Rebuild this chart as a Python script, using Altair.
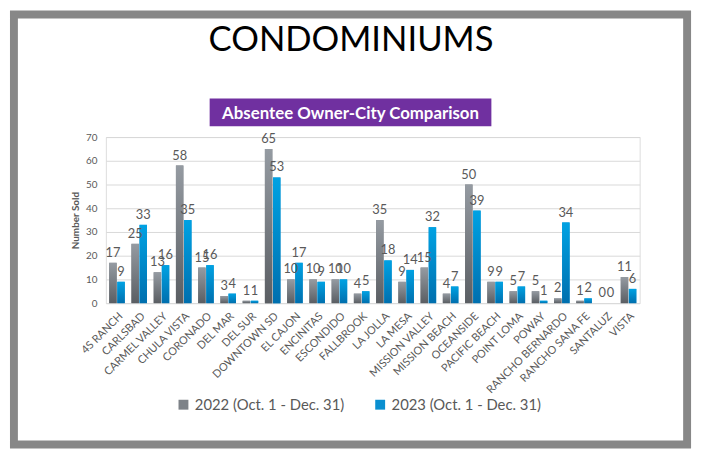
import altair as alt
import pandas as pd

cities = ["4S RANCH", "CARLSBAD", "CARMEL VALLEY", "CHULA VISTA", "CORONADO", "DEL MAR",
          "DEL SUR", "DOWNTOWN SD", "EL CAJON", "ENCINITAS", "ESCONDIDO", "FALLBROOK",
          "LA JOLLA", "LA MESA", "MISSION VALLEY", "MISSION BEACH", "OCEANSIDE",
          "PACIFIC BEACH", "POINT LOMA", "POWAY", "RANCHO BERNARDO", "RANCHO SANA FE",
          "SANTALUZ", "VISTA"]
sold_2022 = [17, 25, 13, 58, 15, 3, 1, 65, 10, 10, 10, 4, 35, 9, 15, 4, 50, 9, 5, 5, 2, 1, 0, 11]
sold_2023 = [9, 33, 16, 35, 16, 4, 1, 53, 17, 9, 10, 5, 18, 14, 32, 7, 39, 9, 7, 1, 34, 2, 0, 6]
series = ["2022 (Oct. 1 - Dec. 31)", "2023 (Oct. 1 - Dec. 31)"]
y_ticks = [0, 10, 20, 30, 40, 50, 60, 70]
main_title = "CONDOMINIUMS"
sub_title = "Absentee Owner-City Comparison"
y_title = "Number Sold"

rows = []
for c, a, b in zip(cities, sold_2022, sold_2023):
    rows.append({"city": c, "series": series[0], "sold": a})
    rows.append({"city": c, "series": series[1], "sold": b})
df = pd.DataFrame(rows)
one = pd.DataFrame({"t": [main_title], "s": [sub_title]})

GREY_TXT = "#595959"
FONT = "Lato"

x_enc = alt.X("city:N", sort=cities,
              scale=alt.Scale(paddingInner=0.3, paddingOuter=0.15),
              axis=alt.Axis(title=None, labelAngle=-45, labelFontSize=11, labelColor=GREY_TXT,
                            labelPadding=7, domain=False, ticks=False, labelFont=FONT))
xo_enc = alt.XOffset("series:N", sort=series,
                     scale=alt.Scale(domain=series, paddingInner=0.08, paddingOuter=0))
y_enc = alt.Y("sold:Q", scale=alt.Scale(domain=[0, 70]),
              axis=alt.Axis(values=y_ticks, title=y_title, titleFontSize=10, titleFontWeight="bold",
                            titleColor=GREY_TXT, titlePadding=5, labelFontSize=10,
                            labelColor=GREY_TXT, labelPadding=9, domain=False, ticks=False,
                            gridColor="#d9d9d9", gridWidth=1, labelFont=FONT, titleFont=FONT))

frame = alt.Chart(one).mark_rect(fillOpacity=0, stroke="#878787", strokeWidth=8).encode(
    x=alt.value(14 - 107), x2=alt.value(695 - 107),
    y=alt.value(12 - 136), y2=alt.value(447 - 136))

title = alt.Chart(one).mark_text(fontSize=35, font=FONT, color="black", align="center",
                                 baseline="alphabetic").encode(
    text="t:N", x=alt.value(355 - 107), y=alt.value(49 - 136))

purple = alt.Chart(one).mark_rect(color="#7030A0").encode(
    x=alt.value(212 - 107), x2=alt.value(497 - 107),
    y=alt.value(97 - 136), y2=alt.value(125 - 136))

sub = alt.Chart(one).mark_text(fontSize=17, font=FONT, fontWeight="bold", color="white",
                               align="center", baseline="alphabetic").encode(
    text="s:N", x=alt.value(354.5 - 107), y=alt.value(118 - 136))

legend_bars = alt.Chart(df).mark_bar().encode(
    x=x_enc, xOffset=xo_enc, y=y_enc,
    color=alt.Color("series:N", sort=series,
                    scale=alt.Scale(domain=series, range=["#7d8288", "#0a8fd0"]),
                    legend=alt.Legend(title=None, orient="none", direction="horizontal",
                                      legendX=178 - 107, legendY=263, symbolType="square",
                                      symbolSize=100, symbolStrokeWidth=0, labelFontSize=15,
                                      labelColor=GREY_TXT, labelFont=FONT, labelOffset=4,
                                      columnPadding=28, padding=0)))

grad_grey = alt.Gradient(gradient="linear", x1=0, x2=0, y1=0, y2=1,
                         stops=[alt.GradientStop(color="#959ba2", offset=0),
                                alt.GradientStop(color="#5a5e63", offset=1)])
grad_blue = alt.Gradient(gradient="linear", x1=0, x2=0, y1=0, y2=1,
                         stops=[alt.GradientStop(color="#00a2e3", offset=0),
                                alt.GradientStop(color="#006fae", offset=1)])

bars22 = alt.Chart(df).mark_bar(color=grad_grey).encode(
    x=x_enc, xOffset=xo_enc, y=y_enc).transform_filter(alt.datum.series == series[0])
bars23 = alt.Chart(df).mark_bar(color=grad_blue).encode(
    x=x_enc, xOffset=xo_enc, y=y_enc).transform_filter(alt.datum.series == series[1])

labels = alt.Chart(df).mark_text(fontSize=13, font=FONT, color=GREY_TXT, baseline="bottom",
                                 dy=-3).encode(
    x=x_enc, xOffset=xo_enc, y=y_enc, text="sold:Q")

chart = alt.layer(frame, title, purple, sub, legend_bars, bars22, bars23, labels).properties(
    width=540, height=168,
    autosize=alt.AutoSizeParams(type="none"),
    padding={"left": 99, "top": 128, "right": 57, "bottom": 145},
).configure_view(stroke=None).configure(font=FONT)

chart.save("out.html", embed_options={"renderer": "svg", "actions": False})
